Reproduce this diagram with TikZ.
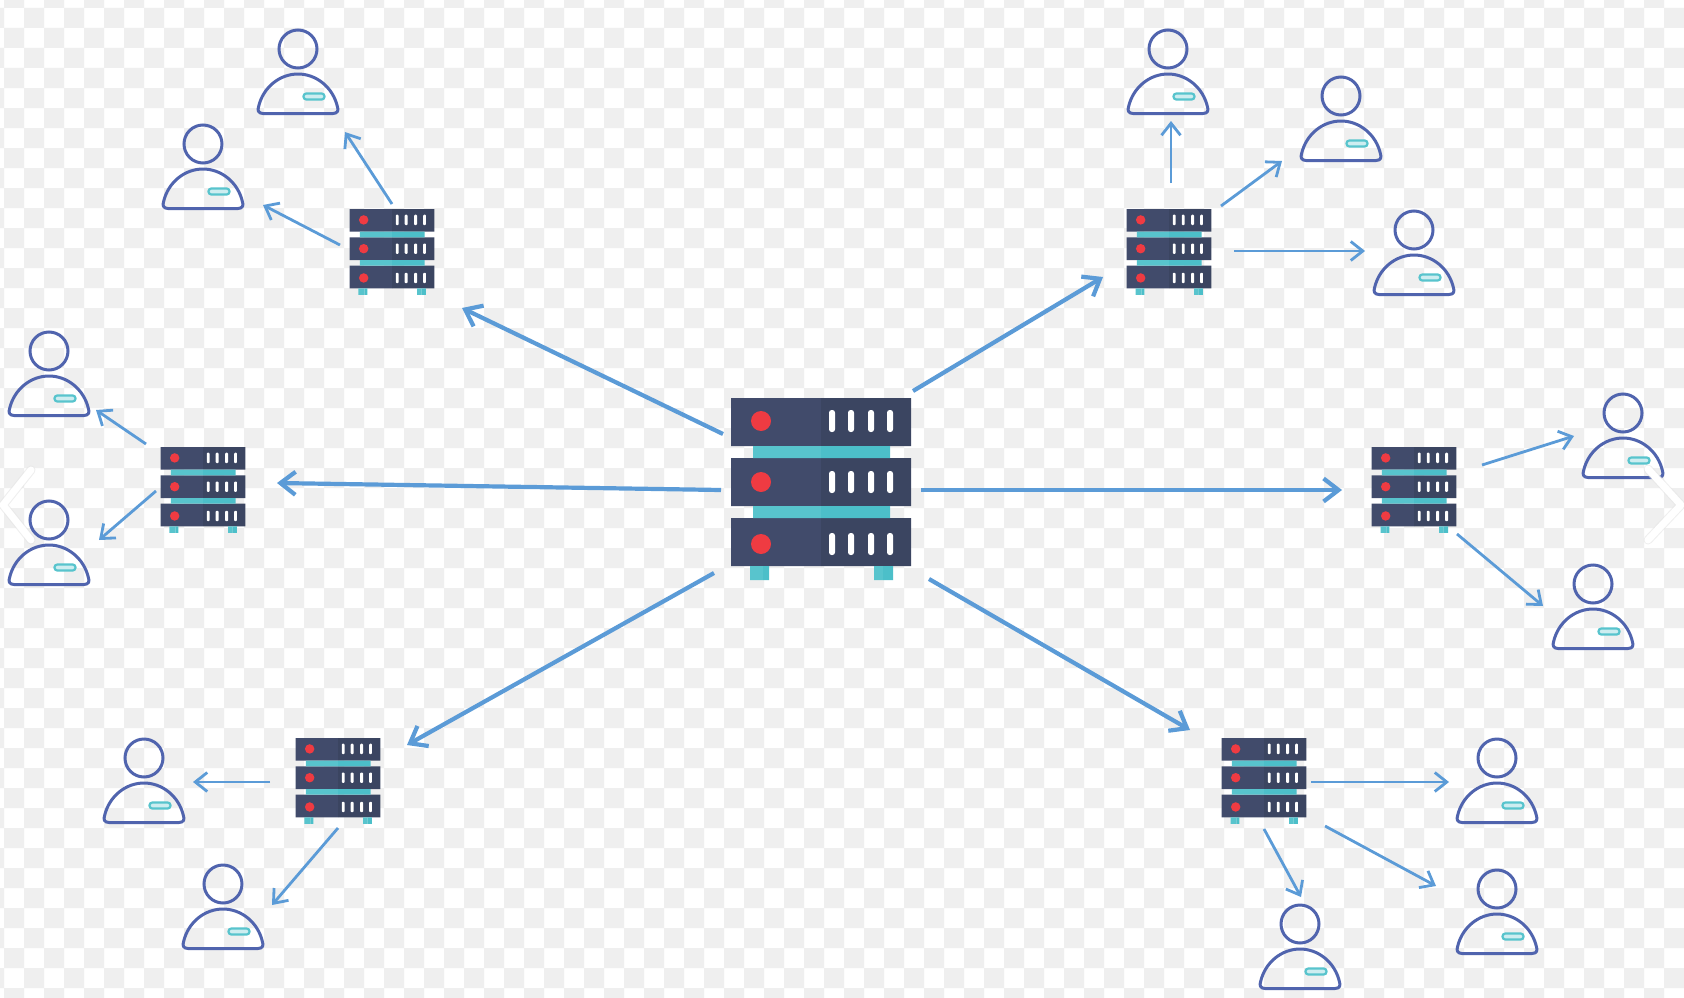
\documentclass[tikz,border=0pt]{standalone}
\usetikzlibrary{arrows.meta}
\definecolor{checker}{HTML}{EFEFEF}
\definecolor{rackL}{HTML}{414B6B}
\definecolor{rackR}{HTML}{3B4561}
\definecolor{tealL}{HTML}{58C4CD}
\definecolor{tealR}{HTML}{4CBFC9}
\definecolor{ledred}{HTML}{EF3B42}
\definecolor{userblue}{HTML}{5064AE}
\definecolor{linkblue}{HTML}{5B9BD7}
\tikzset{
  x=1pt,y=-1pt,
  bigarrow/.style={draw=linkblue,line width=4.2pt,-{Straight Barb[length=15pt,width=23pt,line width=4.2pt]}},
  smallarrow/.style={draw=linkblue,line width=2.8pt,-{Straight Barb[length=12pt,width=19pt,line width=2.8pt]}},
  chevronshade/.style={draw=black!10,line width=9pt,line cap=round,line join=round,opacity=.6},
  chevronwhite/.style={draw=white,line width=7pt,line cap=round,line join=round},
  iconmark/.style={inner sep=0pt,minimum size=1pt},
  pics/server/.style={code={
    \fill[rackL] (-90,-91) rectangle (0,-43) (-90,-31) rectangle (0,17) (-90,29) rectangle (0,77);
    \fill[rackR] (0,-91) rectangle (90,-43) (0,-31) rectangle (90,17) (0,29) rectangle (90,77);
    \fill[tealL] (-68,-43) rectangle (0,-31) (-68,17) rectangle (0,29) (-71,77) rectangle (-58,91) (53,77) rectangle (62,91);
    \fill[tealR] (0,-43) rectangle (69,-31) (0,17) rectangle (69,29) (-58,77) rectangle (-52,91) (62,77) rectangle (72,91);
    \foreach \ry in {-68,-7,55}{
      \fill[ledred] (-60,\ry) circle (10);
      \foreach \rx in {11,30,50,69}{
        \fill[white,rounded corners=#1] (\rx-3,\ry-11) rectangle (\rx+3,\ry+11);
      }
    }
  }},
  person/.pic={
    \draw[userblue,line width=3pt] (0,0) circle (19);
    \draw[userblue,line width=3pt,line join=round] (-35,64.5) -- (35,64.5)
      .. controls (40,64.5) and (40.5,61) .. (39.5,58)
      .. controls (35,38) and (18,25) .. (0,25)
      .. controls (-18,25) and (-35,38) .. (-39.5,58)
      .. controls (-40.5,61) and (-40,64.5) .. (-35,64.5) -- cycle;
    \draw[tealL,line width=2.2pt,fill=tealL!30,rounded corners=2.8] (5.5,44.5) rectangle (26.5,50.5);
  }
}
\begin{document}
\begin{tikzpicture}
\useasboundingbox (0,0) rectangle (1684,998);
\clip (0,0) rectangle (1684,998);
\fill[white] (0,0) rectangle (1684,998);
% checkerboard
\fill[checker] \foreach \cx in {-16,24,...,1684}{\foreach \cy in {8,48,...,1008}{(\cx,\cy) rectangle ++(20,20)}};
\fill[checker] \foreach \cx in {4,44,...,1684}{\foreach \cy in {-12,28,...,1008}{(\cx,\cy) rectangle ++(20,20)}};
% carousel chevrons
\coordinate (lca) at (31,470); \coordinate (lcb) at (3,505); \coordinate (lcc) at (31,540);
\coordinate (rca) at (1648,469); \coordinate (rcb) at (1681,505); \coordinate (rcc) at (1648,540);
\draw[chevronshade] (lca) -- (lcb) -- (lcc);
\draw[chevronwhite] (lca) -- (lcb) -- (lcc);
% servers
\pic at (821,489) {server=2.6};
\node[iconmark] (center) at (821,489) {};
\foreach \nm/\px/\py in {s1/392/252,s2/203/490,s3/338/781,s4/1169/252,s5/1414/490,s6/1264/781}{
  \pic[scale=.472] at (\px,\py) {server=0.9};
  \node[iconmark] (\nm) at (\px,\py) {};
}
% users
\foreach \nm/\px/\py in {u1/298/49,u2/203/144,u3/49/351,u4/49/520,u5/144/758,u6/223/884,u7/1168/49,u8/1341/96,u9/1414/230,u10/1623/413,u11/1593/584,u12/1497/758,u13/1497/889,u14/1300/924}{
  \pic at (\px,\py) {person};
  \node[iconmark] (\nm) at (\px,\py) {};
}
\draw[chevronshade] (rca) -- (rcb) -- (rcc);
\draw[chevronwhite] (rca) -- (rcb) -- (rcc);
% main links
\foreach \nm/\ax/\ay/\bx/\by in {m1/723/434/462/308,m2/721/490/277/483,m3/714/573/407/745,m4/929/579/1190/730,m5/921/490/1342/490,m6/913/391/1103/277}{
  \coordinate (\nm a) at (\ax,\ay);
  \coordinate (\nm b) at (\bx,\by);
  \draw[bigarrow] (\nm a) -- (\nm b);
}
% user links
\foreach \nm/\ax/\ay/\bx/\by in {l1/392/204/345/132,l2/340/245/263/205,l3/146/444/96/410,l4/156/491/99/540,l5/270/782/193/782,l6/338/828/272/905,l7/1171/183/1171/121,l8/1221/206/1282/161,l9/1234/251/1365/251,l10/1482/465/1574/436,l11/1457/534/1543/606,l12/1311/782/1449/782,l13/1325/826/1436/886,l14/1264/829/1301/897}{
  \coordinate (\nm a) at (\ax,\ay);
  \coordinate (\nm b) at (\bx,\by);
  \draw[smallarrow] (\nm a) -- (\nm b);
}
\end{tikzpicture}
\end{document}
